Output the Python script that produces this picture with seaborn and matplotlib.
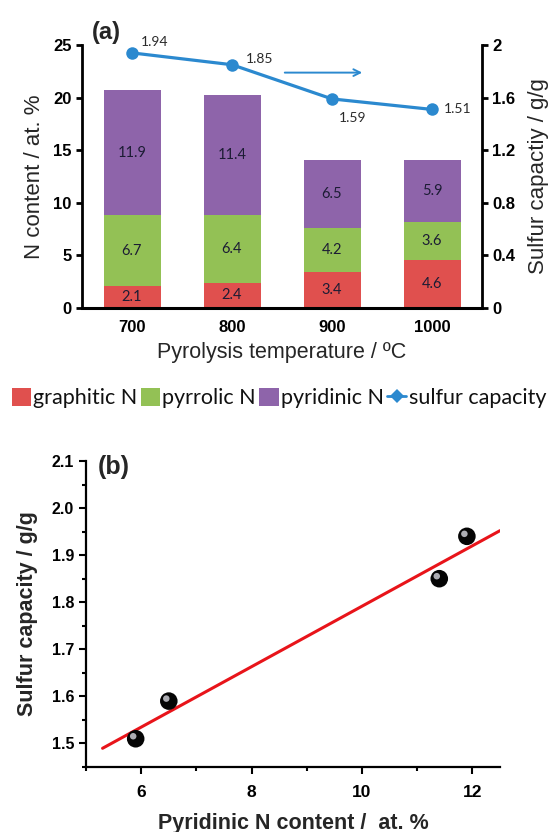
import numpy as np
import matplotlib
matplotlib.use("Agg")
import matplotlib.pyplot as plt
import matplotlib.transforms as mtransforms
import seaborn as sns
from matplotlib.patches import Patch
from matplotlib.lines import Line2D
from matplotlib.ticker import MultipleLocator, FuncFormatter

# ---- data ----
temperatures = ["700", "800", "900", "1000"]
graphitic_n = [2.1, 2.4, 3.4, 4.6]
pyrrolic_n = [6.7, 6.4, 4.2, 3.6]
pyridinic_n = [11.9, 11.4, 6.5, 5.9]
sulfur_capacity = [1.94, 1.85, 1.59, 1.51]

sns.set_theme(style="ticks")
plt.rcParams["font.family"] = ["Liberation Sans", "DejaVu Sans"]
plt.rcParams["axes.edgecolor"] = "black"
plt.rcParams["xtick.color"] = "black"
plt.rcParams["ytick.color"] = "black"

RED = "#E0504E"
GREEN = "#93C155"
PURPLE = "#8E64AA"
BLUE = "#2B89CF"
LABEL_FONT = ["Lato", "DejaVu Sans"]

W, H = 558, 832
fig = plt.figure(figsize=(W / 100, H / 100), dpi=100)

# ================= panel (a): stacked bars + sulfur capacity =================
ax1 = fig.add_axes([82 / W, 1 - 308 / H, 400 / W, 263 / H])

pos = np.arange(len(temperatures))
bottom_pyrrolic = np.array(graphitic_n)
bottom_pyridinic = bottom_pyrrolic + np.array(pyrrolic_n)

layers = [
    (graphitic_n, np.zeros(len(pos)), RED),
    (pyrrolic_n, bottom_pyrrolic, GREEN),
    (pyridinic_n, bottom_pyridinic, PURPLE),
]
for vals, base, col in layers:
    sns.barplot(x=temperatures, y=vals, bottom=base, color=col, saturation=1,
                width=0.57, linewidth=0, ax=ax1)
    for i, (v, b) in enumerate(zip(vals, base)):
        ax1.text(i, b + v / 2, f"{v}", ha="center", va="center", fontsize=10.5,
                 family=LABEL_FONT, color="#1c1c34")

ax1.set_xlim(-0.5, 3.5)
ax1.set_ylim(0, 25)
ax1.set_yticks(np.arange(0, 26, 5))
ax1.set_xticks(pos)
ax1.set_xticklabels(temperatures)
for lab in ax1.get_xticklabels() + ax1.get_yticklabels():
    lab.set_fontweight("bold")
    lab.set_fontsize(12)
ax1.tick_params(axis="x", length=0, pad=9)
ax1.tick_params(axis="y", direction="out", length=4, width=2)
ax1.spines["top"].set_visible(False)
ax1.spines["right"].set_visible(False)
ax1.spines["left"].set_linewidth(2)
ax1.spines["bottom"].set_linewidth(2.2)
ax1.set_xlabel("Pyrolysis temperature / ºC", fontsize=15.5, labelpad=5)
ax1.set_ylabel("N content / at. %", fontsize=16, labelpad=6)

ax2 = ax1.twinx()
sns.lineplot(x=pos, y=sulfur_capacity, color=BLUE, linewidth=2.3, marker="o",
             markersize=9, markeredgewidth=0, ax=ax2)
ax2.set_ylim(0, 2)
ax2.set_yticks(np.arange(0, 2.01, 0.4))
ax2.yaxis.set_major_formatter(FuncFormatter(lambda v, p: f"{v:g}"))
for lab in ax2.get_yticklabels():
    lab.set_fontweight("bold")
    lab.set_fontsize(12)
ax2.tick_params(axis="y", direction="out", length=4, width=2)
for s in ("top", "left", "bottom"):
    ax2.spines[s].set_visible(False)
ax2.spines["right"].set_linewidth(2)
ax2.set_ylabel("Sulfur capactiy / g/g", fontsize=16, labelpad=9)
ax2.set_xlim(-0.5, 3.5)

offsets = [(9, 11), (14, 6), (7, -19), (12, 0)]
for i, (v, off) in enumerate(zip(sulfur_capacity, offsets)):
    ax2.annotate(f"{v:.2f}", (i, v), xytext=off, textcoords="offset pixels",
                 ha="left", va="center", fontsize=10, family=LABEL_FONT,
                 color="#2a2a2a")

ax2.annotate("", xy=(2.33, 1.79), xytext=(1.50, 1.79),
             arrowprops=dict(arrowstyle="->", color=BLUE, lw=1.4,
                             mutation_scale=12))

fig.text(92 / W, 1 - 32 / H, "(a)", fontsize=17, fontweight="bold",
         ha="left", va="center")

handles = [
    Patch(facecolor=RED, edgecolor="none", label="graphitic N"),
    Patch(facecolor=GREEN, edgecolor="none", label="pyrrolic N"),
    Patch(facecolor=PURPLE, edgecolor="none", label="pyridinic N"),
    Line2D([], [], color=BLUE, lw=2, marker="D", markersize=7,
           markeredgewidth=0, label="sulfur capacity"),
]
fig.legend(handles=handles, loc="center", bbox_to_anchor=(0.5, 1 - 398 / H),
           ncol=4, frameon=False, handlelength=0.9, handleheight=0.9,
           handletextpad=0.1, columnspacing=0.15, labelcolor="#111111",
           prop={"family": LABEL_FONT, "size": 15.5})

# ================= panel (b): sulfur capacity vs pyridinic N =================
ax3 = fig.add_axes([86 / W, 1 - 767 / H, 414 / W, 306 / H])

fit = np.polyfit(pyridinic_n, sulfur_capacity, 1)
fit_x = np.array([5.3, 12.5])
sns.lineplot(x=fit_x, y=np.polyval(fit, fit_x), color="#E8141A", linewidth=2.2,
             ax=ax3)

sns.scatterplot(x=pyridinic_n, y=sulfur_capacity, s=160, color="#050505",
                edgecolor="none", ax=ax3, zorder=3)
shine = mtransforms.offset_copy(ax3.transData, fig=fig, x=-2.5, y=2.5,
                                units="dots")
ax3.scatter(pyridinic_n, sulfur_capacity, s=22, color="#d8d8e0", alpha=0.8,
            edgecolor="none", transform=shine, zorder=4)

ax3.set_xlim(5, 12.5)
ax3.set_ylim(1.45, 2.1)
ax3.set_xticks([6, 8, 10, 12])
ax3.xaxis.set_minor_locator(MultipleLocator(1))
ax3.set_yticks(np.round(np.arange(1.5, 2.11, 0.1), 1))
ax3.yaxis.set_minor_locator(MultipleLocator(0.05))
ax3.yaxis.set_major_formatter(FuncFormatter(lambda v, p: f"{v:.1f}"))
for lab in ax3.get_xticklabels():
    lab.set_fontweight("bold")
    lab.set_fontsize(12.5)
for lab in ax3.get_yticklabels():
    lab.set_fontweight("bold")
    lab.set_fontsize(11.5)
ax3.tick_params(which="major", direction="out", length=5, width=1.5)
ax3.tick_params(which="minor", direction="out", length=3, width=1.5)
ax3.tick_params(axis="x", pad=8)
ax3.spines["top"].set_visible(False)
ax3.spines["right"].set_visible(False)
ax3.spines["left"].set_linewidth(1.6)
ax3.spines["bottom"].set_linewidth(1.6)
ax3.set_xlabel("Pyridinic N content /  at. %", fontsize=15.5, fontweight="bold",
               labelpad=9)
ax3.set_ylabel("Sulfur capacity / g/g", fontsize=15.5, fontweight="bold",
               labelpad=10)

fig.text(98 / W, 1 - 467 / H, "(b)", fontsize=18, fontweight="bold",
         ha="left", va="center")

fig.savefig("out.png", dpi=100)
